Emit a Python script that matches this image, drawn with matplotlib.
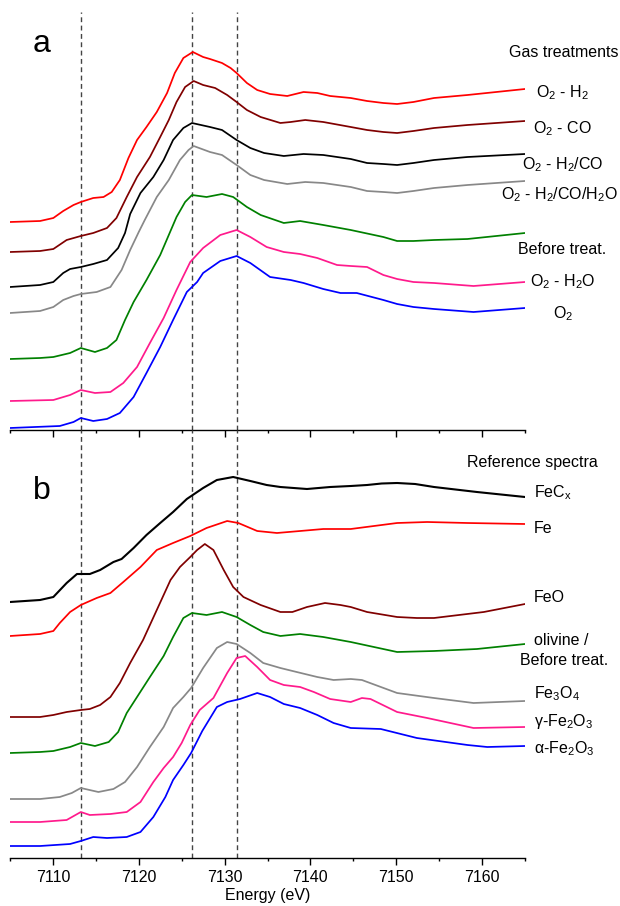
import numpy as np
import matplotlib.pyplot as plt

plt.rcParams['font.family'] = ['Liberation Sans', 'DejaVu Sans']
plt.rcParams['mathtext.fontset'] = 'custom'
plt.rcParams['mathtext.rm'] = 'Liberation Sans'
plt.rcParams['mathtext.it'] = 'Liberation Sans:italic'

# ---- panel a : gas treatments (normalised absorption, offset) ----
e_o2h2 = [7105, 7108.5, 7110.05, 7111.2, 7112.4, 7113.25, 7114.7, 7115.9, 7116.85, 7117.8, 7118.8, 7119.8,
          7120.9, 7122.1, 7123.3, 7124.2, 7125.2, 7126.3, 7127.5, 7128.3, 7129.7, 7130.7, 7131.4, 7132.6,
          7133.8, 7135.3, 7137.3, 7139.2, 7140.8, 7142.3, 7144.7, 7146.6, 7148.5, 7150.1, 7152.0, 7154.4,
          7158.3, 7165]
a_o2h2 = [2.08, 2.09, 2.12, 2.19, 2.25, 2.28, 2.32, 2.33, 2.38, 2.50, 2.72, 2.90,
          3.03, 3.18, 3.37, 3.57, 3.72, 3.78, 3.73, 3.71, 3.67, 3.62, 3.57, 3.47,
          3.40, 3.36, 3.34, 3.38, 3.37, 3.34, 3.32, 3.29, 3.27, 3.26, 3.28, 3.32,
          3.35, 3.41]

e_o2co = [7105, 7108.5, 7110.05, 7111.6, 7113.25, 7114.7, 7116.3, 7117.4, 7118.6, 7119.8, 7121.3, 7122.5,
          7123.5, 7124.4, 7125.4, 7126.4, 7127.5, 7128.9, 7130.3, 7131.4, 7132.6, 7134.2, 7136.5, 7137.7,
          7139.4, 7141.5, 7144.7, 7146.6, 7148.5, 7150.1, 7152.0, 7154.4, 7158.3, 7165]
a_o2co = [1.78, 1.79, 1.81, 1.90, 1.94, 1.97, 2.02, 2.12, 2.33, 2.53, 2.73, 2.93,
          3.10, 3.28, 3.43, 3.49, 3.45, 3.42, 3.35, 3.28, 3.20, 3.13, 3.07, 3.08,
          3.10, 3.08, 3.03, 3.00, 2.98, 2.97, 2.99, 3.02, 3.05, 3.09]

e_o2h2co = [7105, 7108.5, 7110.05, 7111.2, 7112.0, 7113.25, 7114.7, 7116.3, 7117.6, 7118.4, 7119.0, 7120.2,
            7121.7, 7122.9, 7124.0, 7125.2, 7126.2, 7128.3, 7129.7, 7131.4, 7133.0, 7134.6, 7136.9, 7139.2,
            7141.5, 7144.7, 7146.6, 7148.5, 7150.1, 7152.0, 7154.4, 7158.3, 7165]
a_o2h2co = [1.43, 1.45, 1.48, 1.57, 1.61, 1.63, 1.66, 1.70, 1.82, 1.97, 2.16, 2.37,
            2.53, 2.70, 2.90, 3.02, 3.07, 3.03, 3.00, 2.90, 2.82, 2.77, 2.74, 2.76,
            2.75, 2.71, 2.67, 2.66, 2.65, 2.67, 2.70, 2.73, 2.76]

e_o2h2coh2o = [7105, 7108.5, 7110.05, 7111.2, 7112.4, 7113.25, 7115.1, 7116.7, 7118.0, 7119.0, 7120.0, 7120.7,
               7122.1, 7123.5, 7124.8, 7125.8, 7126.4, 7128.3, 7129.7, 7131.4, 7133.0, 7134.6, 7137.3, 7139.4,
               7141.5, 7144.7, 7146.6, 7148.5, 7150.1, 7152.0, 7154.4, 7158.3, 7165]
a_o2h2coh2o = [1.17, 1.19, 1.23, 1.30, 1.34, 1.36, 1.38, 1.43, 1.60, 1.80, 1.98, 2.10,
               2.33, 2.50, 2.70, 2.80, 2.84, 2.78, 2.75, 2.65, 2.55, 2.50, 2.46, 2.48,
               2.47, 2.43, 2.39, 2.38, 2.37, 2.39, 2.42, 2.45, 2.49]

e_before = [7105, 7108.5, 7110.05, 7112.0, 7113.25, 7114.9, 7116.3, 7117.4, 7118.4, 7119.4, 7120.9, 7122.5,
            7124.4, 7125.4, 7126.2, 7127.9, 7129.7, 7131.0, 7132.6, 7134.2, 7136.9, 7138.8, 7141.5, 7144.7,
            7148.5, 7150.1, 7152.0, 7154.4, 7158.3, 7165]
a_before = [0.71, 0.72, 0.73, 0.77, 0.82, 0.78, 0.82, 0.90, 1.10, 1.28, 1.50, 1.75,
            2.13, 2.28, 2.35, 2.33, 2.36, 2.33, 2.23, 2.15, 2.07, 2.09, 2.05, 2.00,
            1.93, 1.89, 1.89, 1.90, 1.91, 1.97]

e_o2h2o = [7105, 7110.05, 7112.0, 7113.25, 7114.9, 7116.7, 7118.2, 7119.8, 7121.3, 7122.9, 7124.4, 7126.0,
           7127.5, 7129.5, 7131.4, 7133.0, 7134.9, 7136.9, 7138.8, 7140.8, 7143.1, 7144.7, 7146.6, 7148.5,
           7150.1, 7152.0, 7154.4, 7159.0, 7165]
a_o2h2o = [0.29, 0.30, 0.35, 0.40, 0.37, 0.38, 0.47, 0.63, 0.87, 1.12, 1.40, 1.68,
           1.82, 1.95, 2.00, 1.93, 1.83, 1.78, 1.76, 1.72, 1.65, 1.64, 1.63, 1.55,
           1.51, 1.48, 1.47, 1.44, 1.48]

e_o2 = [7105, 7110.8, 7112.4, 7113.25, 7114.7, 7116.3, 7117.8, 7119.4, 7120.9, 7122.5, 7124.0, 7125.6,
        7126.8, 7127.5, 7129.5, 7131.4, 7133.0, 7135.3, 7137.7, 7139.2, 7141.5, 7143.5, 7145.4, 7148.5,
        7150.1, 7152.0, 7154.4, 7159.0, 7165]
a_o2 = [0.02, 0.04, 0.08, 0.12, 0.09, 0.11, 0.17, 0.33, 0.57, 0.83, 1.10, 1.38,
        1.48, 1.57, 1.69, 1.74, 1.67, 1.53, 1.50, 1.47, 1.41, 1.37, 1.37, 1.30,
        1.26, 1.23, 1.21, 1.18, 1.22]

# ---- panel b : reference compounds ----
e_fecx = [7105, 7108.5, 7110.05, 7111.6, 7112.8, 7114.3, 7115.5, 7117.05, 7118.0, 7119.4, 7120.9, 7122.5,
          7124.0, 7125.6, 7127.5, 7129.1, 7131.0, 7133.0, 7134.9, 7136.5, 7139.6, 7142.3, 7144.7, 7146.6,
          7148.3, 7150.1, 7152.2, 7154.4, 7159.4, 7165]
a_fecx = [2.56, 2.58, 2.61, 2.75, 2.84, 2.84, 2.88, 2.96, 2.99, 3.10, 3.23, 3.35,
          3.46, 3.59, 3.70, 3.78, 3.81, 3.77, 3.73, 3.71, 3.69, 3.71, 3.72, 3.73,
          3.745, 3.75, 3.74, 3.71, 3.66, 3.61]

e_fe = [7105, 7108.5, 7110.05, 7110.8, 7112.0, 7113.25, 7115.1, 7116.7, 7118.2, 7120.2, 7122.1, 7124.0,
        7126.0, 7127.9, 7130.3, 7131.6, 7133.8, 7136.1, 7138.8, 7141.5, 7144.7, 7150.1, 7153.6, 7158.3,
        7165]
a_fe = [2.22, 2.24, 2.27, 2.35, 2.46, 2.53, 2.60, 2.65, 2.76, 2.91, 3.08, 3.15,
        3.22, 3.30, 3.37, 3.35, 3.27, 3.25, 3.27, 3.29, 3.29, 3.35, 3.36, 3.35,
        3.34]

e_feo = [7105, 7108.5, 7110.05, 7111.6, 7113.25, 7114.3, 7115.5, 7116.7, 7117.8, 7119.0, 7120.5, 7122.1,
         7123.7, 7124.8, 7126.0, 7126.8, 7127.7, 7128.7, 7129.9, 7131.0, 7132.2, 7134.2, 7136.5, 7137.9,
         7139.6, 7141.7, 7143.5, 7144.7, 7146.6, 7150.1, 7152.4, 7154.4, 7160.2, 7165]
a_feo = [1.41, 1.41, 1.43, 1.46, 1.48, 1.49, 1.53, 1.61, 1.75, 1.95, 2.18, 2.48,
         2.78, 2.91, 3.01, 3.08, 3.14, 3.08, 2.88, 2.71, 2.61, 2.53, 2.46, 2.46,
         2.51, 2.55, 2.53, 2.51, 2.46, 2.41, 2.40, 2.40, 2.46, 2.54]

e_olivine = [7105, 7108.5, 7110.05, 7112.0, 7113.25, 7114.9, 7116.5, 7117.6, 7118.6, 7119.8, 7121.3, 7122.9,
             7124.0, 7125.2, 7126.2, 7127.9, 7129.7, 7131.4, 7133.0, 7134.5, 7136.5, 7138.8, 7141.5, 7144.7,
             7150.1, 7154.4, 7159.4, 7165]
a_olivine = [1.05, 1.06, 1.07, 1.11, 1.15, 1.12, 1.16, 1.26, 1.45, 1.61, 1.81, 2.02,
             2.21, 2.40, 2.45, 2.43, 2.46, 2.41, 2.33, 2.26, 2.22, 2.24, 2.21, 2.16,
             2.06, 2.07, 2.09, 2.14]

e_fe3o4 = [7105, 7108.5, 7110.8, 7112.2, 7113.25, 7115.3, 7117.05, 7118.4, 7119.8, 7121.3, 7122.9, 7124.0,
           7125.2, 7126.1, 7127.5, 7129.1, 7130.3, 7131.4, 7133.0, 7134.5, 7136.5, 7138.4, 7140.8, 7142.7,
           7144.7, 7146.0, 7150.1, 7154.4, 7159.0, 7165]
a_fe3o4 = [0.59, 0.59, 0.61, 0.65, 0.70, 0.66, 0.69, 0.76, 0.91, 1.11, 1.31, 1.50,
           1.61, 1.70, 1.90, 2.10, 2.16, 2.14, 2.05, 1.95, 1.90, 1.86, 1.81, 1.78,
           1.79, 1.78, 1.65, 1.60, 1.55, 1.57]

e_gfe2o3 = [7105, 7108.5, 7111.6, 7113.25, 7114.3, 7116.7, 7118.6, 7120.2, 7121.7, 7122.9, 7124.0, 7125.0,
            7126.0, 7127.1, 7128.7, 7130.3, 7131.4, 7132.4, 7133.8, 7135.3, 7136.9, 7138.8, 7140.4, 7142.3,
            7144.7, 7146.0, 7147.0, 7150.1, 7153.6, 7159.0, 7165]
a_gfe2o3 = [0.36, 0.36, 0.38, 0.46, 0.43, 0.44, 0.46, 0.56, 0.76, 0.90, 1.01, 1.15,
            1.33, 1.48, 1.60, 1.85, 2.00, 2.02, 1.91, 1.78, 1.73, 1.71, 1.66, 1.59,
            1.56, 1.60, 1.59, 1.46, 1.40, 1.30, 1.31]

e_afe2o3 = [7105, 7108.5, 7112.0, 7113.25, 7114.7, 7116.3, 7118.6, 7120.2, 7121.7, 7123.1, 7124.0, 7125.2,
            7126.1, 7127.4, 7129.1, 7130.3, 7131.8, 7133.8, 7135.3, 7136.9, 7138.8, 7140.8, 7142.7, 7144.7,
            7148.2, 7152.4, 7158.3, 7160.6, 7165]
a_afe2o3 = [0.12, 0.12, 0.14, 0.17, 0.21, 0.20, 0.21, 0.26, 0.41, 0.61, 0.78, 0.93,
            1.05, 1.27, 1.51, 1.56, 1.59, 1.65, 1.61, 1.54, 1.50, 1.43, 1.35, 1.30,
            1.29, 1.20, 1.13, 1.11, 1.12]

marker_lines = [7113.3, 7126.2, 7131.5]

fig = plt.figure(figsize=(6.2, 9.06), dpi=100)
ax1 = fig.add_axes([10/620, 1 - 430/906, 515/620, 418/906])
ax2 = fig.add_axes([10/620, 1 - 858/906, 515/620, 428/906])

lw = 1.25
ax1.plot(e_o2h2, a_o2h2, color='#ff0000', lw=lw)
ax1.plot(e_o2co, a_o2co, color='#800000', lw=lw)
ax1.plot(e_o2h2co, a_o2h2co, color='black', lw=lw)
ax1.plot(e_o2h2coh2o, a_o2h2coh2o, color='#888888', lw=lw)
ax1.plot(e_before, a_before, color='#008000', lw=lw)
ax1.plot(e_o2h2o, a_o2h2o, color='#ff1a8c', lw=lw)
ax1.plot(e_o2, a_o2, color='#0000ff', lw=lw)

ax2.plot(e_fecx, a_fecx, color='black', lw=1.5)
ax2.plot(e_fe, a_fe, color='#ff0000', lw=lw)
ax2.plot(e_feo, a_feo, color='#800000', lw=lw)
ax2.plot(e_olivine, a_olivine, color='#008000', lw=lw)
ax2.plot(e_fe3o4, a_fe3o4, color='#888888', lw=lw)
ax2.plot(e_gfe2o3, a_gfe2o3, color='#ff1a8c', lw=lw)
ax2.plot(e_afe2o3, a_afe2o3, color='#0000ff', lw=lw)

for ax, top in [(ax1, 4.18), (ax2, 4.28)]:
    ax.set_xlim(7105, 7165)
    ax.set_ylim(0, top)
    for e in marker_lines:
        ax.axvline(e, color='#444444', lw=1.0, ls=(0, (3.5, 2.5)), zorder=0)
    for s in ['left', 'right', 'top']:
        ax.spines[s].set_visible(False)
    ax.spines['bottom'].set_linewidth(1.0)
    ax.set_yticks([])
    ax.set_xticks(np.arange(7110, 7161, 10))
    ax.set_xticks(np.arange(7105, 7166, 5), minor=True)
    ax.tick_params(axis='x', which='major', direction='out', length=5, width=1.0, labelsize=11.5)
    ax.tick_params(axis='x', which='minor', direction='out', length=2.5, width=1.0)
    ax.patch.set_alpha(0)

ax1.set_xticklabels([])
ax2.set_xlabel('Energy (eV)', fontsize=11.5, labelpad=2)

fs = 11.5
ax1.text(7107.6, 3.78, 'a', fontsize=23, va='baseline')
ax1.text(7163.1, 3.73, 'Gas treatments', fontsize=fs, va='baseline')
ax1.text(7166.3, 3.33, 'O$_2$ - H$_2$', fontsize=fs, va='baseline')
ax1.text(7165.9, 2.97, 'O$_2$ - CO', fontsize=fs, va='baseline')
ax1.text(7164.6, 2.61, 'O$_2$ - H$_2$/CO', fontsize=fs, va='baseline')
ax1.text(7175.8, 2.31, 'O$_2$ - H$_2$/CO/H$_2$O', fontsize=fs, va='baseline', ha='right')
ax1.text(7164.2, 1.76, 'Before treat.', fontsize=fs, va='baseline')
ax1.text(7165.6, 1.44, 'O$_2$ - H$_2$O', fontsize=fs, va='baseline')
ax1.text(7168.3, 1.12, 'O$_2$', fontsize=fs, va='baseline')

ax2.text(7107.7, 3.59, 'b', fontsize=23, va='baseline')
ax2.text(7158.3, 3.91, 'Reference spectra', fontsize=fs, va='baseline')
ax2.text(7166.0, 3.61, 'FeC$_\\mathrm{x}$', fontsize=fs, va='baseline')
ax2.text(7166.0, 3.25, 'Fe', fontsize=fs, va='baseline')
ax2.text(7166.0, 2.56, 'FeO', fontsize=fs, va='baseline')
ax2.text(7166.0, 2.13, 'olivine /', fontsize=fs, va='baseline')
ax2.text(7164.4, 1.93, 'Before treat.', fontsize=fs, va='baseline')
ax2.text(7166.0, 1.60, 'Fe$_3$O$_4$', fontsize=fs, va='baseline')
ax2.text(7166.0, 1.32, 'γ-Fe$_2$O$_3$', fontsize=fs, va='baseline')
ax2.text(7166.0, 1.05, 'α-Fe$_2$O$_3$', fontsize=fs, va='baseline')

fig.savefig('out.png', dpi=100)
